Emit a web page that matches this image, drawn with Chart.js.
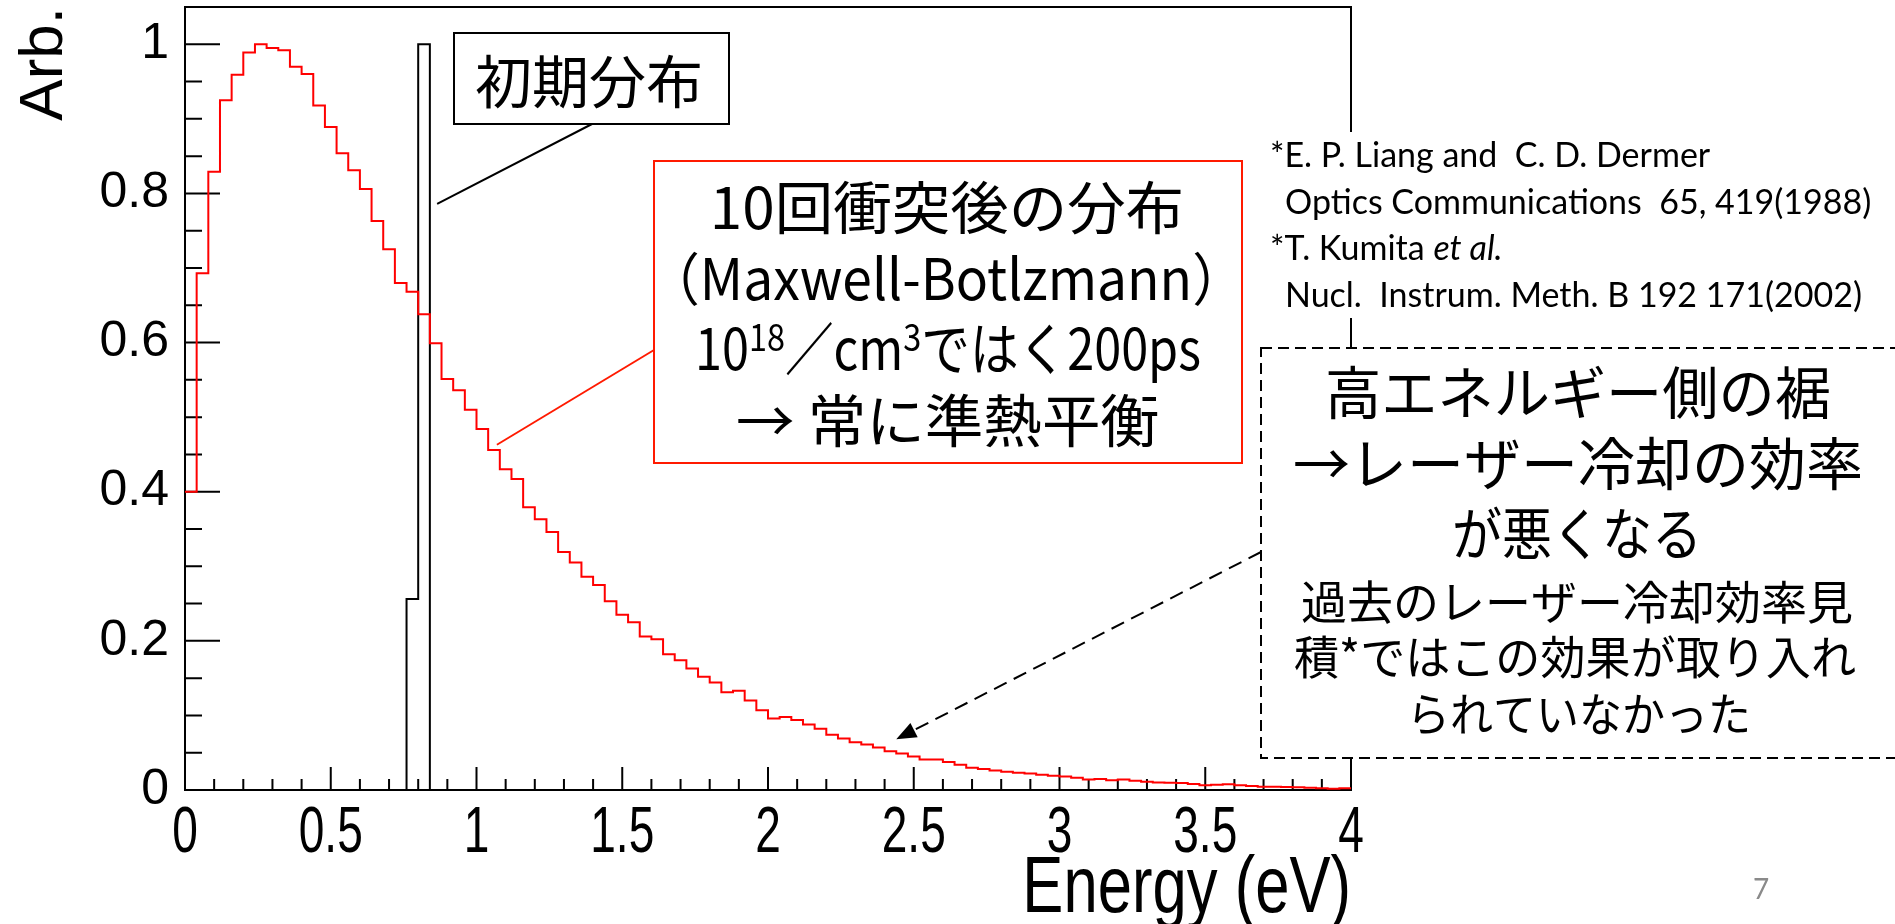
<!DOCTYPE html>
<html>
<head>
<meta charset="utf-8">
<title>Energy distribution</title>
<script src="https://cdn.jsdelivr.net/npm/chart.js@4.4.0/dist/chart.umd.min.js"></script>
<style>
  html, body { margin: 0; padding: 0; background: #fff; }
  canvas { display: block; }
</style>
</head>
<body>
<canvas id="energyChart" width="1895" height="924"></canvas>
<script>
// Histogram binning (eV)
const binWidth = 0.04;

// After 10 collisions (Maxwell-Boltzmann), one value per 0.04 eV bin from 0 to 4 eV
const afterCollisions = [
    0.400, 0.693, 0.829, 0.925, 0.959, 0.989, 1.000, 0.995, 0.992, 0.970,
    0.960, 0.918, 0.889, 0.854, 0.831, 0.806, 0.763, 0.725, 0.680, 0.668,
    0.638, 0.599, 0.551, 0.536, 0.510, 0.484, 0.456, 0.430, 0.417, 0.379,
    0.363, 0.346, 0.319, 0.305, 0.286, 0.275, 0.253, 0.235, 0.225, 0.206,
    0.202, 0.182, 0.174, 0.163, 0.152, 0.144, 0.131, 0.133, 0.120, 0.107,
    0.096, 0.098, 0.094, 0.088, 0.082, 0.074, 0.069, 0.064, 0.061, 0.057,
    0.052, 0.049, 0.045, 0.041, 0.041, 0.0375, 0.034, 0.030, 0.028, 0.026,
    0.0245, 0.023, 0.022, 0.0205, 0.019, 0.018, 0.0165, 0.014, 0.0147, 0.013,
    0.014, 0.0125, 0.011, 0.010, 0.0098, 0.0094, 0.008, 0.0063, 0.007, 0.0076,
    0.0063, 0.0054, 0.0045, 0.0045, 0.004, 0.0036, 0.003, 0.0022, 0.0018, 0.0022
];

// Initial distribution: bin edges and heights
const initialEdges = [0, 0.76, 0.80, 0.84, 4];
const initialValues = [0, 0.256, 1.0, 0, 0];

// Axis ticks
const xTickValues = [0, 0.5, 1, 1.5, 2, 2.5, 3, 3.5, 4];
const yTickValues = [0, 0.2, 0.4, 0.6, 0.8, 1];

// Build stepped points (left bin edges + closing point at the last edge)
const afterPoints = afterCollisions.map((v, i) => ({ x: i * binWidth, y: v }));
afterPoints.push({ x: afterCollisions.length * binWidth, y: afterCollisions[afterCollisions.length - 1] });
const initialPoints = initialEdges.map((e, i) => ({ x: e, y: initialValues[i] }));

const JP = '"Noto Sans CJK JP", sans-serif';
const HELV = '"Liberation Sans", Arial, sans-serif';

// draw text squeezed horizontally (ROOT uses a narrow Helvetica on the x axis)
function narrowText(ctx, text, px, py, size, squeeze, align) {
    ctx.save();
    ctx.translate(px, py);
    ctx.scale(squeeze, 1);
    ctx.font = size + 'px ' + HELV;
    ctx.textAlign = align;
    ctx.textBaseline = 'alphabetic';
    ctx.fillText(text, 0, 0);
    ctx.restore();
}

// Frame, inward ticks and x axis labels like the ROOT canvas
const framePlugin = {
    id: 'frame',
    beforeDatasetsDraw(chart) {
        const { ctx, chartArea: a, scales: { x, y } } = chart;
        ctx.save();
        ctx.strokeStyle = '#000';
        ctx.lineWidth = 2;
        ctx.strokeRect(a.left, a.top, a.right - a.left, a.bottom - a.top);
        ctx.beginPath();
        // y ticks every 0.05, long ones every 0.2
        for (let k = 1; k <= 20; k++) {
            const py = y.getPixelForValue(k * 0.05);
            const len = k % 4 === 0 ? 35 : 17;
            ctx.moveTo(a.left, py);
            ctx.lineTo(a.left + len, py);
        }
        // x ticks every 0.1, long ones every 0.5
        for (let k = 1; k < 40; k++) {
            const px = x.getPixelForValue(k * 0.1);
            const len = k % 5 === 0 ? 23 : 11;
            ctx.moveTo(px, a.bottom);
            ctx.lineTo(px, a.bottom - len);
        }
        ctx.stroke();
        ctx.restore();
    },
    afterDraw(chart) {
        const { ctx, chartArea: a, scales: { x } } = chart;
        ctx.save();
        ctx.fillStyle = '#000';
        x.ticks.forEach(t => {
            narrowText(ctx, String(t.value), x.getPixelForValue(t.value), 852, 64, 0.72, 'center');
        });
        narrowText(ctx, 'Energy (eV)', a.right, 912, 80, 0.77, 'right');
        ctx.restore();
    }
};

function centerText(ctx, text, cx, cy, size, maxWidth) {
    ctx.font = size + 'px ' + JP;
    ctx.textAlign = 'center';
    ctx.textBaseline = 'middle';
    ctx.fillText(text, cx, cy, maxWidth);
}

// stretch/squeeze a line so its inked part spans the given width around cx
function fitText(ctx, text, cx, cy, size, width) {
    ctx.save();
    ctx.font = size + 'px ' + JP;
    ctx.textAlign = 'left';
    ctx.textBaseline = 'middle';
    const m = ctx.measureText(text);
    const inkLeft = -m.actualBoundingBoxLeft;
    const inkW = m.actualBoundingBoxRight + m.actualBoundingBoxLeft;
    const s = width / inkW;
    ctx.translate(cx - width / 2, cy);
    ctx.scale(s, 1);
    ctx.fillText(text, -inkLeft, 0);
    ctx.restore();
}

function line(ctx, x0, y0, x1, y1) {
    ctx.beginPath();
    ctx.moveTo(x0, y0);
    ctx.lineTo(x1, y1);
    ctx.stroke();
}

// Text boxes, pointers and references
const annotationPlugin = {
    id: 'annotations',
    afterDraw(chart) {
        const { ctx, scales: { x, y } } = chart;
        ctx.save();
        ctx.fillStyle = '#000';

        // "初期分布" box
        ctx.strokeStyle = '#000';
        ctx.lineWidth = 2;
        line(ctx, 592, 124, x.getPixelForValue(0.865), y.getPixelForValue(0.786));
        ctx.fillStyle = '#fff';
        ctx.fillRect(454, 33, 275, 91);
        ctx.strokeRect(454, 33, 275, 91);
        ctx.fillStyle = '#000';
        centerText(ctx, '初期分布', 589, 81, 57);

        // red box: after 10 collisions
        ctx.strokeStyle = '#ff1a00';
        line(ctx, 654, 350, x.getPixelForValue(1.07), y.getPixelForValue(0.463));
        ctx.fillStyle = '#fff';
        ctx.fillRect(654, 161, 588, 302);
        ctx.strokeRect(654, 161, 588, 302);
        ctx.fillStyle = '#000';
        fitText(ctx, '10回衝突後の分布', 948, 207, 57, 466);
        fitText(ctx, '（Maxwell-Botlzmann）', 946, 278, 57, 526);
        // line with superscripts
        const parts = [['10', 57, 0], ['18', 38, 19], ['／', 57, 0], ['cm', 57, 0], ['3', 38, 19], ['ではく200ps', 57, 0]];
        let total = 0;
        parts.forEach(p => { ctx.font = p[1] + 'px ' + JP; p.push(ctx.measureText(p[0]).width); total += p[3]; });
        const sx = Math.min(1, 506 / total);
        ctx.save();
        ctx.translate(948 - total * sx / 2, 370);
        ctx.scale(sx, 1);
        ctx.textAlign = 'left';
        ctx.textBaseline = 'alphabetic';
        let cx = 0;
        parts.forEach(p => {
            ctx.font = p[1] + 'px ' + JP;
            ctx.fillText(p[0], cx, -p[2]);
            cx += p[3];
        });
        ctx.restore();
        fitText(ctx, '→ 常に準熱平衡', 948, 420, 57, 420);

        // references (white background hides the frame edge)
        ctx.fillStyle = '#fff';
        ctx.fillRect(1255, 132, 640, 186);
        ctx.fillStyle = '#000';
        ctx.textAlign = 'left';
        ctx.textBaseline = 'middle';
        ctx.font = '34px Lato, sans-serif';
        ctx.fillText('*E. P. Liang and  C. D. Dermer', 1270, 156);
        ctx.fillText('Optics Communications  65, 419(1988)', 1285, 203);
        ctx.fillText('*T. Kumita ', 1270, 249);
        const kw = ctx.measureText('*T. Kumita ').width;
        ctx.font = 'italic 34px Lato, sans-serif';
        ctx.fillText('et al.', 1270 + kw, 249);
        ctx.font = '34px Lato, sans-serif';
        ctx.fillText('Nucl.  Instrum. Meth. B 192 171(2002)', 1285, 296);

        // dashed box: high-energy tail
        ctx.strokeStyle = '#000';
        ctx.lineWidth = 2;
        ctx.setLineDash([14, 8]);
        const tipX = x.getPixelForValue(2.44);
        const tipY = y.getPixelForValue(0.068);
        const ang = Math.atan2(552 - tipY, 1261 - tipX);
        line(ctx, 1261, 552, tipX + 16 * Math.cos(ang), tipY + 16 * Math.sin(ang));
        ctx.setLineDash([]);
        ctx.beginPath();
        ctx.moveTo(tipX, tipY);
        ctx.lineTo(tipX + 20 * Math.cos(ang) - 8 * Math.sin(ang), tipY + 20 * Math.sin(ang) + 8 * Math.cos(ang));
        ctx.lineTo(tipX + 20 * Math.cos(ang) + 8 * Math.sin(ang), tipY + 20 * Math.sin(ang) - 8 * Math.cos(ang));
        ctx.closePath();
        ctx.fill();

        ctx.fillStyle = '#fff';
        ctx.fillRect(1261, 348, 640, 410);
        ctx.setLineDash([11, 6]);
        ctx.strokeRect(1261, 348, 640, 410);
        ctx.setLineDash([]);
        ctx.fillStyle = '#000';
        centerText(ctx, '高エネルギー側の裾', 1578, 392, 57, 506);
        centerText(ctx, '→レーザー冷却の効率', 1578, 463, 57, 576);
        centerText(ctx, 'が悪くなる', 1577, 533, 57, 250);
        centerText(ctx, '過去のレーザー冷却効率見', 1577, 602, 46, 562);
        centerText(ctx, '積*ではこの効果が取り入れ', 1575, 657, 46, 562);
        centerText(ctx, 'られていなかった', 1579, 714, 46, 344);

        // page number
        ctx.fillStyle = '#8a8a8a';
        ctx.font = '28px Lato, sans-serif';
        ctx.textAlign = 'center';
        ctx.fillText('7', 1761, 890);
        ctx.restore();
    }
};

const ctx = document.getElementById('energyChart').getContext('2d');
const chart = new Chart(ctx, {
    type: 'line',
    data: {
        datasets: [{
            label: '10回衝突後の分布',
            data: afterPoints,
            borderColor: '#ff0000',
            borderWidth: 2,
            stepped: 'before',
            pointRadius: 0,
            fill: false
        }, {
            label: '初期分布',
            data: initialPoints,
            borderColor: '#000000',
            borderWidth: 2,
            stepped: 'before',
            pointRadius: 0,
            fill: false
        }]
    },
    options: {
        responsive: false,
        animation: false,
        events: [],
        layout: { padding: { left: 0, right: 544, top: 7, bottom: 0 } },
        plugins: {
            legend: { display: false },
            tooltip: { enabled: false }
        },
        scales: {
            x: {
                type: 'linear',
                min: 0,
                max: 4,
                afterBuildTicks: s => { s.ticks = xTickValues.map(v => ({ value: v })); },
                afterFit: s => {
                    s.height = 134;
                    s.paddingLeft = 0;
                    s.paddingRight = 0;
                },
                ticks: { display: false },
                grid: { display: false, drawTicks: false },
                border: { display: false }
            },
            y: {
                min: 0,
                max: 1.05,
                afterBuildTicks: s => { s.ticks = yTickValues.map(v => ({ value: v })); },
                afterFit: s => {
                    s.width = 185;
                    s.paddingTop = 0;
                    s.paddingBottom = 0;
                },
                ticks: {
                    padding: 16,
                    color: '#000',
                    font: { family: HELV, size: 50 },
                    callback: v => (v === 0 || v === 1) ? String(v) : v.toFixed(1)
                },
                grid: { display: false, drawTicks: false },
                border: { display: false },
                title: {
                    display: true,
                    text: 'Arb.',
                    align: 'end',
                    color: '#000',
                    padding: { top: 14, bottom: 0 },
                    font: { family: HELV, size: 62, lineHeight: 1 }
                }
            }
        }
    },
    plugins: [framePlugin, annotationPlugin]
});
</script>
</body>
</html>
